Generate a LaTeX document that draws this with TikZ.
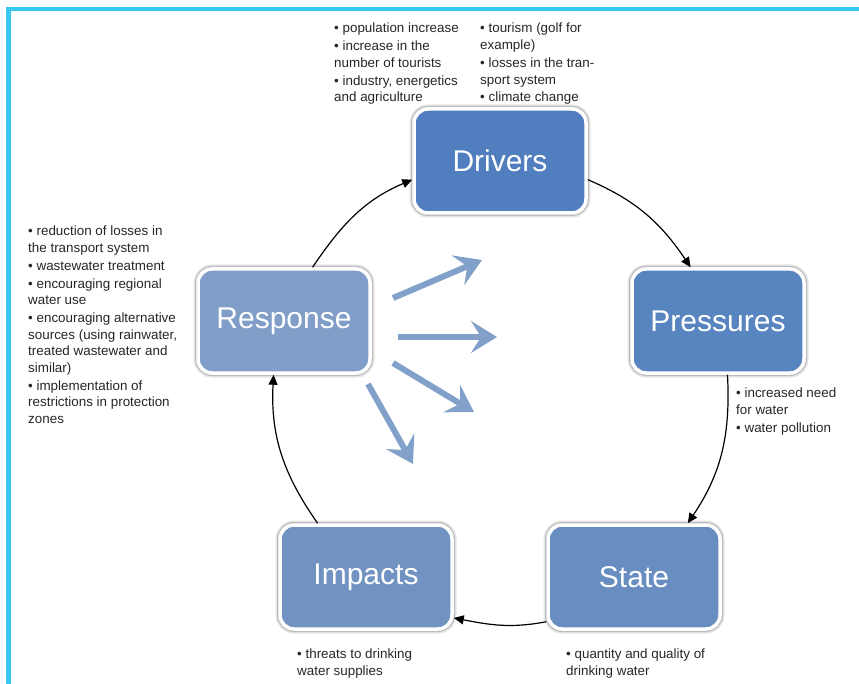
\documentclass[tikz,border=0pt]{standalone}
\usepackage{fontspec}
\setmainfont{Liberation Sans}
\usetikzlibrary{arrows.meta,shadows}
\definecolor{frame}{RGB}{54,200,240}
\definecolor{cdrv}{RGB}{80,126,190}
\definecolor{cprs}{RGB}{88,133,192}
\definecolor{cst}{RGB}{104,141,192}
\definecolor{cimp}{RGB}{112,147,194}
\definecolor{cresp}{RGB}{128,158,200}
\definecolor{flow}{RGB}{130,161,202}
\tikzset{
  box/.style={draw=white, line width=3.5pt, rounded corners=14pt, minimum width=172pt, minimum height=104pt,
    text=white, font=\fontsize{30}{32}\selectfont,
    preaction={draw=black, draw opacity=0.10, line width=9pt},
    preaction={draw=black, draw opacity=0.18, line width=6pt}},
  notes/.style={align=left, anchor=north west, inner sep=0pt, font=\fontsize{13.4}{16.7}\selectfont, text=black!85},
  cyc/.style={-{Triangle[length=10pt,width=9pt]}, line width=1.2pt, black},
  big/.style={-{Stealth[length=26pt,width=32pt,inset=10pt]}, line width=6pt, flow}
}
\begin{document}
\begin{tikzpicture}[x=1pt,y=-1pt]
\useasboundingbox (0,0) rectangle (859,684);
\fill[frame] (6,7) rectangle (859,11);
\fill[frame] (6,7) rectangle (11,684);

\node[box, fill=cdrv]  (drv)  at (500,161) {Drivers};
\node[box, fill=cprs]  (prs)  at (718,321) {Pressures};
\node[box, fill=cst]   (st)   at (634,577) {State};
\node[box, fill=cimp]  (imp)  at (366,577) {Impacts};
\node[box, fill=cresp] (resp) at (284,321) {Response};

\draw[cyc] (resp.62) to[out=56,in=203] (drv.192);
\draw[cyc] (drv.348) to[out=-23,in=124] (prs.117);
\draw[cyc] (prs.280) to[out=-87,in=56] (st.45);
\draw[cyc] (st.207) to[out=191,in=-11] (imp.335);
\draw[cyc] (imp.132) to[out=125,in=267] (resp.259);

\coordinate (a1s) at (393,298); \coordinate (a1e) at (482,260);
\coordinate (a2s) at (398,337); \coordinate (a2e) at (497,337);
\coordinate (a3s) at (393,363); \coordinate (a3e) at (474,412);
\coordinate (a4s) at (368,384); \coordinate (a4e) at (413,464);
\draw[big] (a1s) -- (a1e);
\draw[big] (a2s) -- (a2e);
\draw[big] (a3s) -- (a3e);
\draw[big] (a4s) -- (a4e);

\node[notes] (n1) at (334,23) {• population increase\\[1pt]• increase in the\\number of tourists\\[1pt]• industry, energetics\\and agriculture};
\node[notes] (n2) at (480,23) {• tourism (golf for\\example)\\[1pt]• losses in the tran-\\sport system\\[1pt]• climate change};
\node[notes] (n3) at (28,226) {• reduction of losses in\\the transport system\\[1pt]• wastewater treatment\\[1pt]• encouraging regional\\water use\\[1pt]• encouraging alternative\\sources (using rainwater,\\treated wastewater and\\similar)\\[1pt]• implementation of\\restrictions in protection\\zones};
\node[notes] (n4) at (736,388) {• increased need\\for water\\[1pt]• water pollution};
\node[notes] (n5) at (297,649) {• threats to drinking\\water supplies};
\node[notes] (n6) at (566,649) {• quantity and quality of\\drinking water};
\end{tikzpicture}
\end{document}
